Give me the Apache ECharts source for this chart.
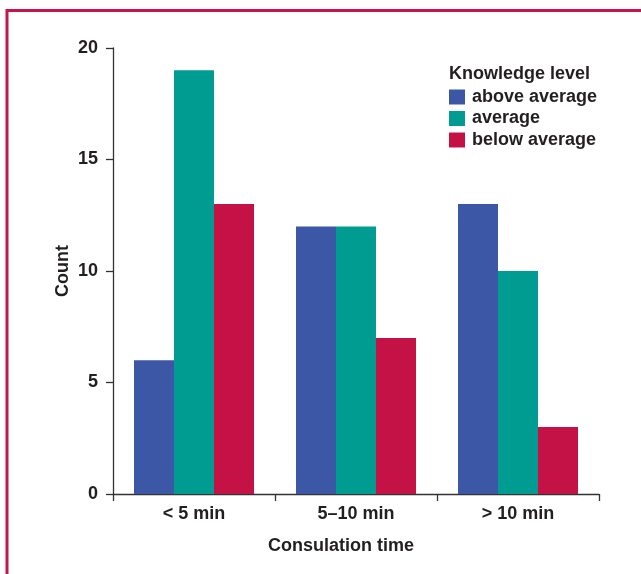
<!DOCTYPE html>
<html>
<head>
<meta charset="utf-8">
<script src="https://cdn.jsdelivr.net/npm/echarts@6/dist/echarts.min.js"></script>
<style>
html,body{margin:0;padding:0;background:#fff;}
#chart{width:641px;height:574px;}
</style>
</head>
<body>
<div id="chart"></div>
<script>
const categories = ['< 5 min', '5\u201310 min', '> 10 min'];
const aboveAverage = [6, 12, 13];
const average = [19, 12, 10];
const belowAverage = [13, 7, 3];
const seriesNames = ['above average', 'average', 'below average'];
const yTicks = [0, 5, 10, 15, 20];

const colors = ['#3b57a6', '#009b91', '#c51246'];
const font = 'Liberation Sans, Arial, Helvetica, sans-serif';
const textColor = '#231f20';
const fs = 18;

const chart = echarts.init(document.getElementById('chart'), null, {renderer: 'canvas'});
chart.setOption({
  animation: false,
  backgroundColor: '#fff',
  color: colors,
  graphic: [{
    type: 'rect',
    shape: {x: 7, y: 10.5, width: 700, height: 700},
    style: {fill: 'none', stroke: '#c8144a', lineWidth: 3},
    silent: true, z: -1
  }],
  title: {
    text: 'Knowledge level',
    left: 449, top: 65,
    padding: 0,
    textStyle: {fontFamily: font, fontWeight: 'bold', fontSize: fs, color: textColor}
  },
  legend: {
    orient: 'vertical',
    left: 449, top: 88,
    padding: 0,
    itemWidth: 16, itemHeight: 15, itemGap: 3.5,
    icon: 'rect',
    data: seriesNames,
    textStyle: {fontFamily: font, fontWeight: 'bold', fontSize: fs, color: textColor, padding: [0, 0, 0, 2]}
  },
  grid: {left: 113, top: 48, right: 42, bottom: 80, containLabel: false},
  xAxis: {
    type: 'category',
    data: categories,
    name: 'Consulation time',
    nameLocation: 'middle',
    nameGap: 43,
    nameMoveOverlap: false,
    nameTextStyle: {fontFamily: font, fontWeight: 'bold', fontSize: fs, color: textColor, padding: [0, 30, 0, 0]},
    axisLine: {lineStyle: {color: '#333', width: 1.3}},
    axisTick: {show: true, length: 7, lineStyle: {color: '#333', width: 1.3}},
    axisLabel: {fontFamily: font, fontWeight: 'bold', fontSize: fs, color: textColor, margin: 11}
  },
  yAxis: {
    type: 'value',
    min: yTicks[0], max: yTicks[yTicks.length - 1], interval: 5,
    name: 'Count',
    nameLocation: 'middle',
    nameGap: 41,
    nameMoveOverlap: false,
    nameRotate: 90,
    nameTextStyle: {fontFamily: font, fontWeight: 'bold', fontSize: fs, color: textColor},
    splitLine: {show: false},
    axisLine: {show: true, lineStyle: {color: '#333', width: 1.3}},
    axisTick: {show: true, length: 7, lineStyle: {color: '#333', width: 1.3}},
    axisLabel: {fontFamily: font, fontWeight: 'bold', fontSize: fs, color: textColor, margin: 15}
  },
  series: [
    {name: seriesNames[0], type: 'bar', data: aboveAverage, barWidth: 40, barGap: '0%'},
    {name: seriesNames[1], type: 'bar', data: average, barWidth: 40, barGap: '0%'},
    {name: seriesNames[2], type: 'bar', data: belowAverage, barWidth: 40, barGap: '0%'}
  ]
});
</script>
</body>
</html>
